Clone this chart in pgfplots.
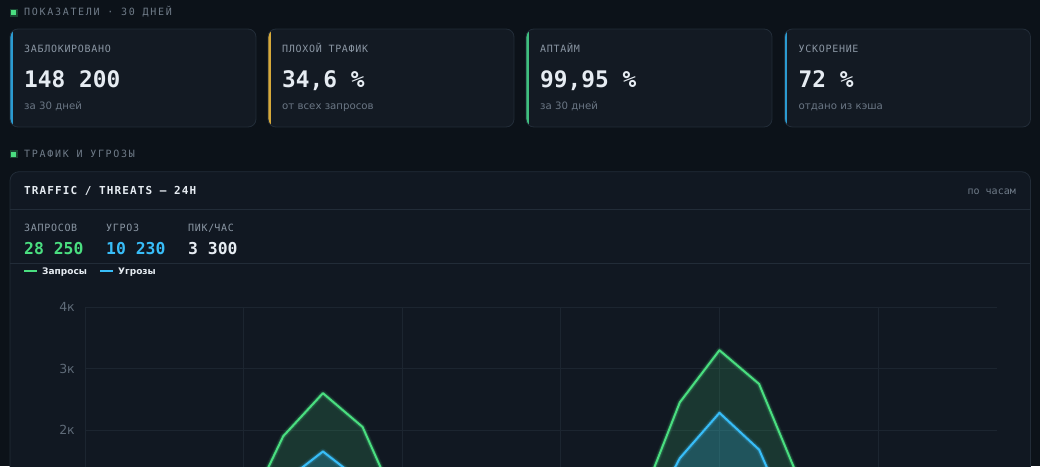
\documentclass[border=0pt]{standalone}
\usepackage{fontspec}
\setmainfont{DejaVu Sans}
\newfontfamily\mono{DejaVu Sans Mono}
\newfontfamily\monotr[LetterSpace=17]{DejaVu Sans Mono}
\newfontfamily\monols[LetterSpace=7]{DejaVu Sans Mono}
\newfontfamily\monott[LetterSpace=10]{DejaVu Sans Mono}
\usepackage{pgfplots}
\usepackage{pgfplotstable}
\pgfplotsset{compat=1.18}

\definecolor{pagebg}{HTML}{0C1219}
\definecolor{cardbg}{HTML}{131A23}
\definecolor{panelbg}{HTML}{111822}
\definecolor{border}{HTML}{222C38}
\definecolor{gridc}{HTML}{1C2530}
\definecolor{hdrgray}{HTML}{6F7B88}
\definecolor{lblgray}{HTML}{8A96A3}
\definecolor{subgray}{HTML}{6B7785}
\definecolor{tickc}{HTML}{5F6B78}
\definecolor{valwhite}{HTML}{E6ECF2}
\definecolor{greenl}{HTML}{4ADE80}
\definecolor{bluel}{HTML}{38BDF8}
\definecolor{accblue}{HTML}{2B9BD1}
\definecolor{accyellow}{HTML}{D6A93A}
\definecolor{accgreen}{HTML}{3FBF7F}

% hourly traffic, last 24 h
\pgfplotstableread{
hour req  thr
0    700  90
1    650  80
2    600  70
3    650  100
4    550  250
5    1900 1150
6    2600 1650
7    2050 1150
8    600  250
9    700  120
10   750  150
11   950  200
12   750  180
13   700  150
14   800  300
15   2450 1540
16   3300 2280
17   2750 1680
18   1200 200
19   800  150
20   750  120
21   700  100
22   650  90
23   700  80
}\traffic

% #1 x, #2 accent, #3 label, #4 value, #5 note
\newcommand\card[5]{%
  \begin{scope}
    \path[clip, rounded corners=8pt] (#1,29) rectangle ++(246,98);
    \fill[cardbg] (#1,29) rectangle ++(246,98);
    \fill[#2] (#1,29) rectangle ++(2.5,98);
  \end{scope}
  \draw[border, line width=0.8pt, rounded corners=8pt] (#1,29) rectangle ++(246,98);
  \node[anchor=base west, inner sep=0, text=lblgray,
        font=\monols\fontsize{10}{12}\selectfont] at (#1+14,52) {#3};
  \node[anchor=base west, inner sep=0, text=valwhite,
        font=\mono\bfseries\fontsize{22.8}{27}\selectfont] at (#1+14,87) {#4};
  \node[anchor=base west, inner sep=0, text=subgray,
        font=\fontsize{10.2}{12}\selectfont] at (#1+14,109.5) {#5};
}

\begin{document}
\begin{tikzpicture}
\begin{scope}
\clip (0pt,0pt) rectangle (1040pt,-466pt);
\fill[pagebg] (0pt,0pt) rectangle (1040pt,-466pt);

\begin{scope}[x=1pt, y=-1pt]
  % section 1
  \fill[greenl, opacity=0.25] (9.5,8.5) rectangle (17.5,16.8);
  \fill[greenl] (11,10.2) rectangle (16,15.2);
  \node[anchor=base west, inner sep=0, text=hdrgray,
        font=\monotr\fontsize{10}{12}\selectfont] at (24,15) {ПОКАЗАТЕЛИ · 30 ДНЕЙ};

  \card{10}{accblue}{ЗАБЛОКИРОВАНО}{148 200}{за 30 дней}
  \card{268}{accyellow}{ПЛОХОЙ ТРАФИК}{34,6 \%}{от всех запросов}
  \card{526}{accgreen}{АПТАЙМ}{99,95 \%}{за 30 дней}
  \card{784.5}{accblue}{УСКОРЕНИЕ}{72 \%}{отдано из кэша}

  % section 2
  \fill[greenl, opacity=0.25] (9.5,150.2) rectangle (17.5,158.2);
  \fill[greenl] (11,151.7) rectangle (16,156.7);
  \node[anchor=base west, inner sep=0, text=hdrgray,
        font=\monotr\fontsize{10}{12}\selectfont] at (24,157.7) {ТРАФИК И УГРОЗЫ};

  \fill[panelbg, rounded corners=9pt] (10,171.7) rectangle (1030.5,560);
  \draw[border, line width=0.8pt, rounded corners=9pt] (10,171.7) rectangle (1030.5,560);
  \draw[border, line width=0.8pt] (10,209.5) -- (1030.5,209.5);
  \draw[border, line width=0.8pt] (10,263.5) -- (1030.5,263.5);

  \node[anchor=base west, inner sep=0, text=valwhite,
        font=\monott\bfseries\fontsize{11}{13}\selectfont] at (24,194.3) {TRAFFIC / THREATS — 24H};
  \node[anchor=base east, inner sep=0, text=hdrgray,
        font=\mono\fontsize{10}{12}\selectfont] at (1016,194) {по часам};

  \foreach \xx/\lab/\val/\col in {24/ЗАПРОСОВ/28 250/greenl, 106/УГРОЗ/10 230/bluel, 188/ПИК\slash ЧАС/3 300/valwhite}{
    \node[anchor=base west, inner sep=0, text=lblgray,
          font=\monols\fontsize{10}{12}\selectfont] at (\xx,231.7) {\lab};
    \node[anchor=base west, inner sep=0, text=\col,
          font=\mono\bfseries\fontsize{16.4}{20}\selectfont] at (\xx,254.3) {\val};
  }

  \draw[greenl, line width=1.5pt] (24,271) -- (37,271);
  \node[anchor=base west, inner sep=0, text=valwhite,
        font=\bfseries\fontsize{9}{11}\selectfont] at (42,274.4) {Запросы};
  \draw[bluel, line width=1.5pt] (100,271) -- (113,271);
  \node[anchor=base west, inner sep=0, text=valwhite,
        font=\bfseries\fontsize{9}{11}\selectfont] at (118,274.4) {Угрозы};
\end{scope}

\begin{axis}[
  at={(85pt,-552.7pt)}, anchor=south west,
  scale only axis, width=912pt, height=245.4pt,
  xmin=0, xmax=23, ymin=0, ymax=4000,
  xtick={0,4,...,20}, xticklabels={},
  ytick={0,1000,2000,3000,4000},
  yticklabels={,,2к,3к,4к},
  yticklabel style={font=\fontsize{12.5}{14}\selectfont, text=tickc,
                    anchor=east, inner sep=0pt, xshift=-10pt},
  grid=major, major grid style={draw=gridc, line width=0.9pt},
  axis line style={draw=none}, major tick length=0pt,
]
  \addplot[draw=none, fill=greenl, fill opacity=0.16] table[x=hour, y=req] {\traffic} \closedcycle;
  \addplot[draw=none, fill=bluel, fill opacity=0.22] table[x=hour, y=thr] {\traffic} \closedcycle;

  \addplot[greenl, line width=6pt, opacity=0.10, line join=round] table[x=hour, y=req] {\traffic};
  \addplot[greenl, line width=3.8pt, opacity=0.20, line join=round] table[x=hour, y=req] {\traffic};
  \addplot[greenl, line width=2pt, line join=round] table[x=hour, y=req] {\traffic};

  \addplot[bluel, line width=6pt, opacity=0.10, line join=round] table[x=hour, y=thr] {\traffic};
  \addplot[bluel, line width=3.8pt, opacity=0.20, line join=round] table[x=hour, y=thr] {\traffic};
  \addplot[bluel, line width=2pt, line join=round] table[x=hour, y=thr] {\traffic};
\end{axis}
\end{scope}
\pgfresetboundingbox
\useasboundingbox (0pt,0pt) rectangle (1040pt,-466pt);
\end{tikzpicture}
\end{document}
